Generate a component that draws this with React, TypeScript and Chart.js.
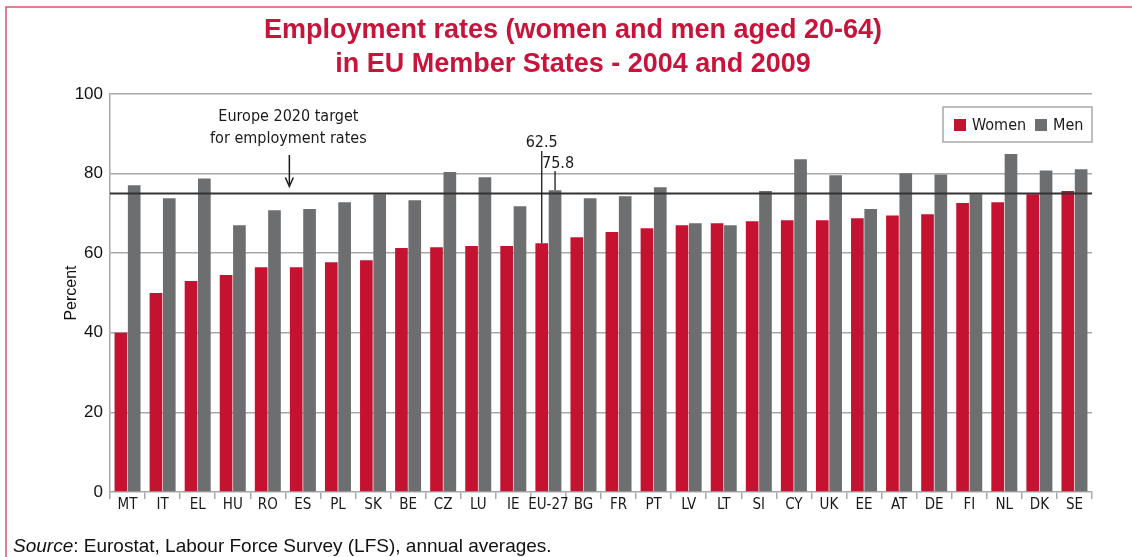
import { useEffect, useRef } from "react";
import { Chart, registerables } from "chart.js";

Chart.register(...registerables);

const categories = [
  "MT", "IT", "EL", "HU", "RO", "ES", "PL", "SK", "BE", "CZ", "LU", "IE", "EU-27", "BG",
  "FR", "PT", "LV", "LT", "SI", "CY", "UK", "EE", "AT", "DE", "FI", "NL", "DK", "SE",
];

const women = [
  40.0, 50.0, 53.0, 54.5, 56.5, 56.5, 57.7, 58.2, 61.3, 61.5, 61.8, 61.8, 62.5, 64.0,
  65.3, 66.3, 67.0, 67.5, 68.0, 68.3, 68.3, 68.8, 69.5, 69.8, 72.6, 72.8, 74.8, 75.6,
];

const men = [
  77.1, 73.8, 78.8, 67.0, 70.8, 71.1, 72.8, 74.8, 73.3, 80.4, 79.1, 71.8, 75.8, 73.8,
  74.3, 76.6, 67.5, 67.0, 75.6, 83.6, 79.6, 71.1, 80.1, 79.8, 74.8, 84.9, 80.8, 81.1,
];

const yTicks = [0, 20, 40, 60, 80, 100];
const targetValue = 75;
const highlightCategory = "EU-27";

const titleLines = [
  "Employment rates (women and men aged 20-64)",
  "in EU Member States - 2004 and 2009",
];
const targetLabelLines = ["Europe 2020 target", "for employment rates"];

const RED = "#c41230";
const GRAY = "#6d6e70";
const GRID = "#a8a8a8";
const FRAME = "#d9566b";
const TITLE = "#c8143a";
const NARROW = '"Liberation Sans Narrow", "DejaVu Sans Condensed", "Arial Narrow", sans-serif';
const REG = '"Liberation Sans", Arial, sans-serif';

const decor = {
  id: "decor",
  beforeDraw(chart: any) {
    const { ctx, width, height } = chart;
    ctx.save();
    ctx.fillStyle = "#ffffff";
    ctx.fillRect(0, 0, width, height);
    ctx.strokeStyle = FRAME;
    ctx.lineWidth = 1.5;
    ctx.beginPath();
    ctx.moveTo(6, height);
    ctx.lineTo(6, 7);
    ctx.lineTo(width, 7);
    ctx.stroke();
    ctx.restore();
  },
  afterDatasetsDraw(chart: any) {
    const { ctx, chartArea, scales } = chart;
    const x = scales.x;
    const y = scales.y;
    ctx.save();
    // target line
    const ty = y.getPixelForValue(targetValue);
    ctx.strokeStyle = "#333333";
    ctx.lineWidth = 2;
    ctx.beginPath();
    ctx.moveTo(chartArea.left, ty);
    ctx.lineTo(chartArea.right, ty);
    ctx.stroke();

    // target label + arrow
    const ax = (x.getPixelForValue(4) + x.getPixelForValue(5)) / 2 + 4;
    ctx.fillStyle = "#1a1a1a";
    ctx.font = `16px ${NARROW}`;
    ctx.textAlign = "center";
    ctx.textBaseline = "alphabetic";
    ctx.fillText(targetLabelLines[0], ax - 1, 121);
    ctx.fillText(targetLabelLines[1], ax - 1, 143);
    ctx.strokeStyle = "#1a1a1a";
    ctx.lineWidth = 1.5;
    ctx.beginPath();
    ctx.moveTo(ax, 155);
    ctx.lineTo(ax, ty - 9);
    ctx.stroke();
    ctx.beginPath();
    ctx.moveTo(ax - 4, ty - 16);
    ctx.lineTo(ax, ty - 7);
    ctx.lineTo(ax + 4, ty - 16);
    ctx.stroke();

    // EU-27 value labels
    const idx = categories.indexOf(highlightCategory);
    const wBar = chart.getDatasetMeta(0).data[idx];
    const mBar = chart.getDatasetMeta(1).data[idx];
    ctx.lineWidth = 1.3;
    ctx.font = `16px ${NARROW}`;
    ctx.fillText(women[idx].toFixed(1), wBar.x, 147);
    ctx.beginPath();
    ctx.moveTo(wBar.x, 151);
    ctx.lineTo(wBar.x, wBar.y);
    ctx.stroke();
    ctx.fillText(men[idx].toFixed(1), mBar.x + 3, 168);
    ctx.beginPath();
    ctx.moveTo(mBar.x, 171);
    ctx.lineTo(mBar.x, mBar.y);
    ctx.stroke();
    ctx.restore();
  },
  afterDraw(chart: any) {
    const { ctx, chartArea } = chart;
    ctx.save();
    // title
    ctx.fillStyle = TITLE;
    ctx.font = `bold 27px ${REG}`;
    ctx.textAlign = "center";
    ctx.textBaseline = "alphabetic";
    const cx = 573;
    ctx.fillText(titleLines[0], cx, 38);
    ctx.fillText(titleLines[1], cx, 72);

    // source
    ctx.textAlign = "left";
    ctx.fillStyle = "#111111";
    ctx.font = `italic 19px ${REG}`;
    const s1 = "Source";
    ctx.fillText(s1, 13, 552);
    const w1 = ctx.measureText(s1).width;
    ctx.font = `19px ${REG}`;
    ctx.fillText(": Eurostat, Labour Force Survey (LFS), annual averages.", 13 + w1, 552);

    // legend
    const lx = chartArea.right - 149;
    const ly = chartArea.top + 13;
    ctx.fillStyle = "#ffffff";
    ctx.fillRect(lx, ly, 149, 35);
    ctx.strokeStyle = GRID;
    ctx.lineWidth = 1.5;
    ctx.strokeRect(lx, ly, 149, 35);
    const ds = chart.data.datasets;
    const items = [
      { x: lx + 11, tx: lx + 29 },
      { x: lx + 92, tx: lx + 110 },
    ];
    ctx.font = `16px ${NARROW}`;
    ctx.textBaseline = "middle";
    items.forEach((it, i) => {
      ctx.fillStyle = ds[i].backgroundColor;
      ctx.fillRect(it.x, ly + 12, 12, 12);
      ctx.fillStyle = "#1a1a1a";
      ctx.fillText(ds[i].label, it.tx, ly + 18.5);
    });
    ctx.restore();
  },
};

export default function App() {
  const ref = useRef<HTMLCanvasElement>(null);
  useEffect(() => {
    document.body.style.margin = "0";
    const chart = new Chart(ref.current as HTMLCanvasElement, {
      type: "bar",
      data: {
        labels: categories,
        datasets: [
          { label: "Women", data: women, backgroundColor: RED, categoryPercentage: 0.76, barPercentage: 0.95 },
          { label: "Men", data: men, backgroundColor: GRAY, categoryPercentage: 0.76, barPercentage: 0.95 },
        ],
      },
      options: {
        responsive: false,
        animation: false,
        layout: { padding: { top: 94, right: 40, left: 0, bottom: 0 } },
        plugins: {
          legend: { display: false },
          title: { display: false },
          tooltip: { enabled: false },
        },
        scales: {
          x: {
            grid: { offset: true, drawOnChartArea: false, drawTicks: true, tickLength: 7, color: GRID, lineWidth: 1.5 },
            border: { color: GRID, width: 1.5 },
            ticks: { font: { family: NARROW, size: 15 }, color: "#1a1a1a", padding: -3, maxRotation: 0, autoSkip: false },
            afterFit: (s: any) => { s.height = 65; },
          },
          y: {
            min: 0,
            max: 100,
            afterBuildTicks: (s: any) => { s.ticks = yTicks.map((v) => ({ value: v })); },
            ticks: { padding: 7, font: { family: REG, size: 17 }, color: "#111111" },
            grid: {
              drawTicks: false,
              color: (c: any) => (c.tick && c.tick.value === 0 ? "rgba(0,0,0,0)" : GRID),
              lineWidth: 1.5,
            },
            border: { color: GRID, width: 1.5 },
            title: { display: true, text: "Percent", color: "#111111", font: { family: REG, size: 16 }, padding: { top: 62, bottom: 0 } },
            afterFit: (s: any) => { s.width = 110; },
          },
        },
      },
      plugins: [decor],
    });
    return () => chart.destroy();
  }, []);
  return <canvas ref={ref} width={1132} height={557} style={{ display: "block" }} />;
}
